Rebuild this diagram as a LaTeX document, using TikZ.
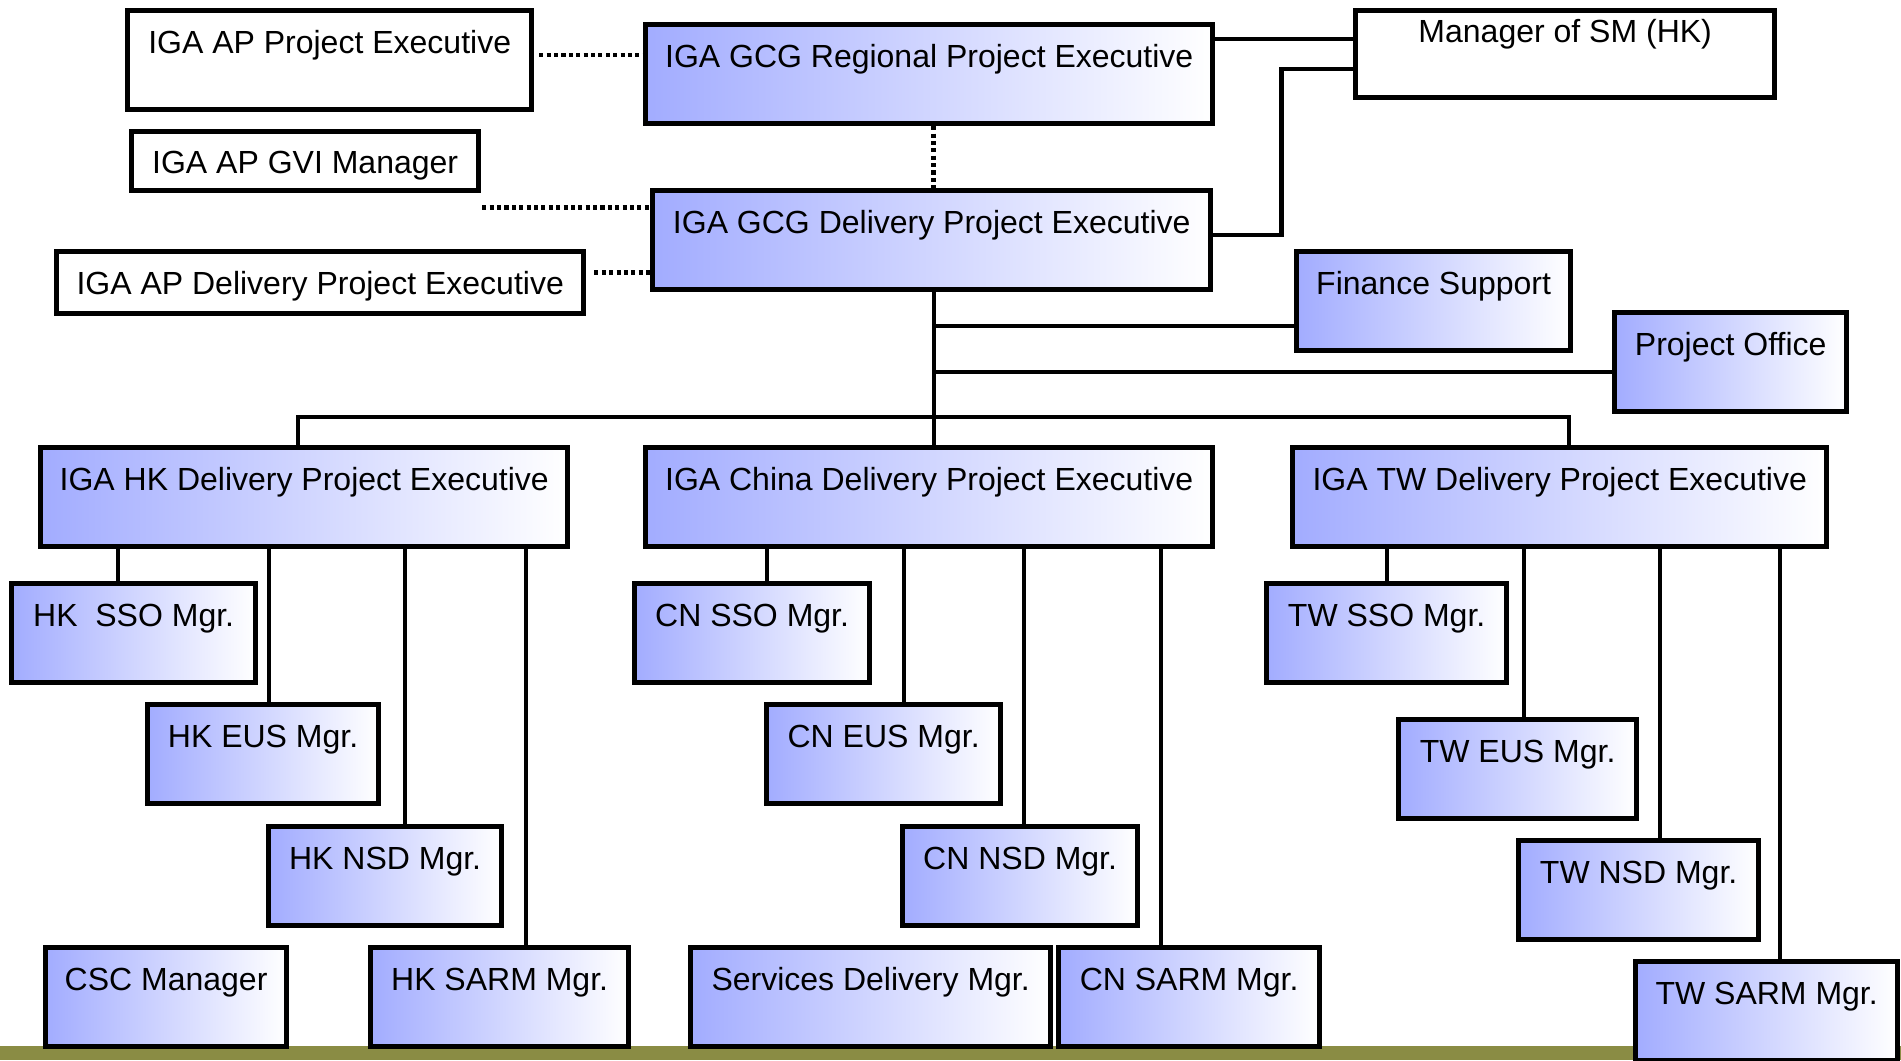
\documentclass[tikz,border=0pt]{standalone}
\usepackage{fontspec}
\setmainfont{Liberation Sans}
\definecolor{boxblu}{RGB}{162,172,255}
\definecolor{oliva}{RGB}{138,140,68}
\tikzset{
  ruolo/.style={draw, line width=1.45pt, inner sep=0pt, anchor=north west,
    left color=boxblu, right color=white, text height=0.43cm, text depth=0.56cm},
  esterno/.style={draw, line width=1.45pt, inner sep=0pt, anchor=north west, fill=white},
  filo/.style={line width=1.2pt},
  punti/.style={line width=1.35pt, dash pattern=on 1.15pt off 0.95pt}
}
\begin{document}
\begin{tikzpicture}[x=0.01cm,y=-0.01cm,font=\fontsize{9.1}{11}\selectfont]
\useasboundingbox (0,0) rectangle (1901,1060);
% fascia in basso
   \fill[oliva] (0,1046) rectangle (1901,1060);
\begin{scope}[shift={(-5,-5)}]
% livello regionale
   \node[esterno,minimum width=4.04cm,text height=0.425cm,text depth=0.565cm] (apPE) at (130,13) {IGA AP Project Executive};
   \node[ruolo,minimum width=5.67cm] (gcgReg) at (648,27) {IGA GCG Regional Project Executive};
   \node[esterno,minimum width=4.19cm,text height=0.32cm,text depth=0.55cm] (smHK) at (1358,13) {Manager of SM (HK)};
   \node[esterno,minimum width=3.47cm,text height=0.42cm,text depth=0.17cm] (apGVI) at (134,134) {IGA AP GVI Manager};
   \node[ruolo,minimum width=5.58cm] (gcgDel) at (655,193) {IGA GCG Delivery Project Executive};
   \node[esterno,minimum width=5.27cm,text height=0.43cm,text depth=0.19cm] (apDel) at (59,254) {IGA AP Delivery Project Executive};
   \node[ruolo,minimum width=2.74cm] (finance) at (1299,254) {Finance Support};
   \node[ruolo,minimum width=2.32cm] (projOff) at (1617,315) {Project Office};
% paesi
   \node[ruolo,minimum width=5.27cm] (hkDPE) at (43,450) {IGA HK Delivery Project Executive};
   \node[ruolo,minimum width=5.67cm] (cnDPE) at (648,450) {IGA China Delivery Project Executive};
   \node[ruolo,minimum width=5.34cm] (twDPE) at (1295,450) {IGA TW Delivery Project Executive};
% responsabili HK
   \node[ruolo,minimum width=2.44cm] (hkSSO) at (14,586) {HK\ \ SSO Mgr.};
   \node[ruolo,minimum width=2.31cm] (hkEUS) at (150,707) {HK EUS Mgr.};
   \node[ruolo,minimum width=2.33cm] (hkNSD) at (271,829) {HK NSD Mgr.};
   \node[ruolo,minimum width=2.41cm] (csc) at (48,950) {CSC Manager};
   \node[ruolo,minimum width=2.58cm] (hkSARM) at (373,950) {HK SARM Mgr.};
% responsabili CN
   \node[ruolo,minimum width=2.35cm] (cnSSO) at (637,586) {CN SSO Mgr.};
   \node[ruolo,minimum width=2.34cm] (cnEUS) at (769,707) {CN EUS Mgr.};
   \node[ruolo,minimum width=2.35cm] (cnNSD) at (905,829) {CN NSD Mgr.};
   \node[ruolo,minimum width=3.60cm] (svcDel) at (693,950) {Services Delivery Mgr.};
   \node[ruolo,minimum width=2.61cm] (cnSARM) at (1061,950) {CN SARM Mgr.};
% responsabili TW
   \node[ruolo,minimum width=2.40cm] (twSSO) at (1269,586) {TW SSO Mgr.};
   \node[ruolo,minimum width=2.38cm] (twEUS) at (1401,722) {TW EUS Mgr.};
   \node[ruolo,minimum width=2.40cm] (twNSD) at (1521,843) {TW NSD Mgr.};
   \node[ruolo,minimum width=2.62cm] (twSARM) at (1638,964) {TW SARM Mgr.};
\end{scope}
% linee tratteggiate
   \draw[punti] ([shift={(5,-5)}]apPE.east) -- ([shift={(0,-5)}]apPE.east -| gcgReg.west);
   \draw[punti] ([shift={(4,0)}]gcgReg.south) -- ([shift={(4,0)}]gcgReg.south |- gcgDel.north);
   \draw[punti] ([shift={(1,14)}]apGVI.south east) -- ([shift={(0,14)}]apGVI.south east -| gcgDel.west);
   \draw[punti] ([shift={(8,-10)}]apDel.east) -- ([shift={(0,-10)}]apDel.east -| gcgDel.west);
% linee piene
   \draw[filo] ([shift={(0,-35)}]gcgReg.east) -- ([shift={(0,-35)}]gcgReg.east -| smHK.west);
   \draw[filo] ([shift={(0,-5)}]gcgDel.east) -- ++(68,0) |- ([shift={(0,15)}]smHK.west);
   \coordinate (asse) at (934,417); \coordinate (busS) at (298,417); \coordinate (busD) at (1569,417);
   \draw[filo] (asse |- gcgDel.south) -- (asse |- cnDPE.north);
   \draw[filo] ([shift={(0,25)}]finance.west) -- ([shift={(0,25)}]finance.west -| asse);
   \draw[filo] ([shift={(0,10)}]projOff.west) -- ([shift={(0,10)}]projOff.west -| asse);
   \draw[filo] (busS |- hkDPE.north) -- (busS) -- (busD) -- (busD |- twDPE.north);
   \foreach \capo/\kid/\dx in {hkDPE/hkSSO/-16, hkDPE/hkEUS/6, hkDPE/hkNSD/20, hkDPE/hkSARM/26,
     cnDPE/cnSSO/15, cnDPE/cnEUS/20, cnDPE/cnNSD/4, cnDPE/cnSARM/-28,
     twDPE/twSSO/0, twDPE/twEUS/6, twDPE/twNSD/21, twDPE/twSARM/13}
     \draw[filo] ([shift={(\dx,0)}]\kid.north) -- ([shift={(\dx,0)}]\kid.north |- \capo.south);
\end{tikzpicture}
\end{document}
